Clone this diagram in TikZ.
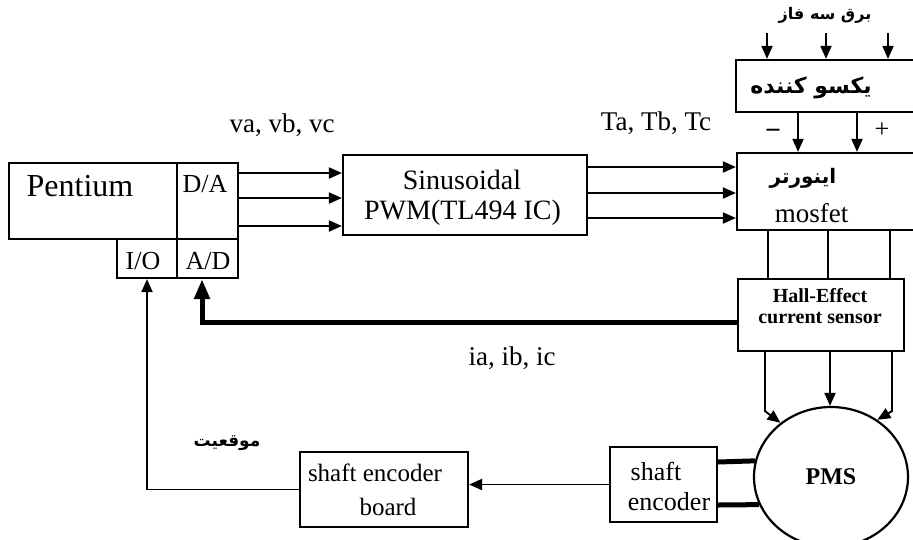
\documentclass[tikz,border=0pt]{standalone}
\usepackage{fontspec}
\setmainfont{Liberation Serif}
\newfontfamily\fa[Script=Arabic]{DejaVu Sans}
\TeXXeTstate=1
\usetikzlibrary{arrows.meta,shapes.geometric}
\newcommand\fsz[1]{\fontsize{#1}{#1}\selectfont}
\begin{document}
\begin{tikzpicture}[x=1pt,y=-1pt,
 box/.style={draw, line width=2.2pt, rectangle, inner sep=0pt},
 arr/.style={line width=1.9pt, -{Triangle[length=13pt,width=11pt]}},
 thickarr/.style={line width=5pt, -{Triangle[length=20pt,width=15pt]}},
 plain/.style={line width=1.9pt},
 thickline/.style={line width=5pt},
 lbl/.style={inner sep=0pt, font=\fsz{27}},
 fal/.style={inner sep=0pt}
]
\useasboundingbox (0,0) rectangle (913,539);
\clip (0,0) rectangle (913,539);

% Pentium block
\node[box, minimum width=168pt, minimum height=76pt] (pent) at (93,201) {};
\node[box, minimum width=61pt, minimum height=76pt] (da) at (207.5,201) {};
\node[box, minimum width=60pt, minimum height=39pt] (io) at (147,258.5) {};
\node[box, minimum width=61pt, minimum height=39pt] (ad) at (207.5,258.5) {};
\node[lbl, font=\fsz{32}] (tpent) at (80,186) {Pentium};
\node[lbl, font=\fsz{26}] (tda) at (205,184) {D/A};
\node[lbl, font=\fsz{26}] (tio) at (143,261) {I/O};
\node[lbl, font=\fsz{26}] (tad) at (208,261) {A/D};

% PWM
\node[box, minimum width=244pt, minimum height=80pt] (pwm) at (465,195) {};
\node[lbl, font=\fsz{28}] (tpwm1) at (462,180) {Sinusoidal};
\node[lbl, font=\fsz{28}] (tpwm2) at (462.5,213) {PWM(TL494 IC)};

% Inverter
\node[box, minimum width=188pt, minimum height=77pt] (inv) at (831,191.5) {};
\node[fal] (tinv1) at (803,178) {\fa\bfseries\fsz{20}\beginR اینورتر\endR};
\node[lbl] (tinv2) at (811.5,213) {mosfet};

% Rectifier
\node[box, minimum width=189pt, minimum height=52pt] (rect) at (830.5,86) {};
\node[fal] (trect) at (811,88) {\fa\bfseries\fsz{22}\beginR یکسو کننده\endR};
\node[fal] (tsupply) at (825,15) {\fa\bfseries\fsz{16}\beginR برق سه فاز\endR};

% Hall sensor
\node[box, minimum width=166pt, minimum height=72pt] (hall) at (821,315) {};
\node[lbl, font=\fsz{20}\bfseries] (thall1) at (820,296) {Hall-Effect};
\node[lbl, font=\fsz{20}\bfseries] (thall2) at (820,318) {current sensor};

% PMS motor
\node[draw, ellipse, line width=2.2pt, minimum width=154pt, minimum height=140pt, inner sep=0pt, font=\fsz{24}\bfseries] (pms) at (831,477) {PMS};

% Shaft encoder
\node[box, minimum width=107pt, minimum height=75pt] (enc) at (663.5,484.5) {};
\node[lbl, font=\fsz{26}] (tenc1) at (656,471) {shaft};
\node[lbl, font=\fsz{26}] (tenc2) at (669,502) {encoder};

% Shaft encoder board
\node[box, minimum width=168pt, minimum height=75pt] (board) at (384,489.5) {};
\node[lbl, font=\fsz{25}] (tboard1) at (375,473) {shaft encoder};
\node[lbl, font=\fsz{25}] (tboard2) at (388,507) {board};

% labels
\node[lbl] (lv) at (282,125) {va, vb, vc};
\node[lbl] (lt) at (656,123) {Ta, Tb, Tc};
\node[lbl] (li) at (512,358) {ia, ib, ic};
\node[fal] (lpos) at (227,443) {\fa\bfseries\fsz{17}\beginR موقعیت\endR};
\node[lbl, font=\fsz{28}\bfseries] (lminus) at (773,134) {−};
\node[lbl, font=\fsz{26}] (lplus) at (882,130) {+};

% D/A -> PWM
\draw[arr] ([yshift=28pt]da.east) -- ([yshift=22pt]pwm.west);
\draw[arr] ([yshift=3pt]da.east) -- ([yshift=-3pt]pwm.west);
\draw[arr] ([yshift=-25pt]da.east) -- ([yshift=-31pt]pwm.west);

% PWM -> inverter
\draw[arr] ([yshift=28pt]pwm.east) -- ([yshift=24.5pt]inv.west);
\draw[arr] ([yshift=2pt]pwm.east) -- ([yshift=-1.5pt]inv.west);
\draw[arr] ([yshift=-23pt]pwm.east) -- ([yshift=-26.5pt]inv.west);

% supply -> rectifier
\coordinate (p1) at (767,33);
\coordinate (p2) at (826,33);
\coordinate (p3) at (888,33);
\draw[arr] (p1) -- (p1 |- rect.north);
\draw[arr] (p2) -- (p2 |- rect.north);
\draw[arr] (p3) -- (p3 |- rect.north);

% rectifier -> inverter
\draw[arr] ([xshift=-32.5pt]rect.south) -- ([xshift=-33pt]inv.north);
\draw[arr] ([xshift=26.5pt]rect.south) -- ([xshift=26pt]inv.north);

% inverter -> Hall sensor
\draw[plain] ([xshift=-63pt]inv.south) -- ([xshift=-63pt]inv.south |- hall.north);
\draw[plain] ([xshift=-3pt]inv.south) -- ([xshift=-3pt]inv.south |- hall.north);
\draw[plain] ([xshift=59pt]inv.south) -- ([xshift=59pt]inv.south |- hall.north);

% Hall -> PMS
\draw[arr] ([xshift=-56pt]hall.south) -- ++(0,59) -- (pms.133);
\draw[arr] ([xshift=9pt]hall.south) -- ([xshift=9pt]hall.south |- pms.north);
\draw[arr] ([xshift=71pt]hall.south) -- ++(0,59) -- (pms.51);

% Hall -> A/D (thick)
\draw[thickarr] ([yshift=-7pt]hall.west) -| ([xshift=-5.5pt]ad.south);

% PMS -> shaft encoder
\draw[thickline] ([yshift=22.5pt]enc.east) -- (pms.168.7);
\draw[thickline] ([yshift=-20.5pt]enc.east) -- (pms.201.5);

% shaft encoder -> board
\draw[arr] (enc.west) -- (enc.west -| board.east);

% board -> I/O
\draw[arr] (board.west) -| (io.south);
\end{tikzpicture}
\end{document}
